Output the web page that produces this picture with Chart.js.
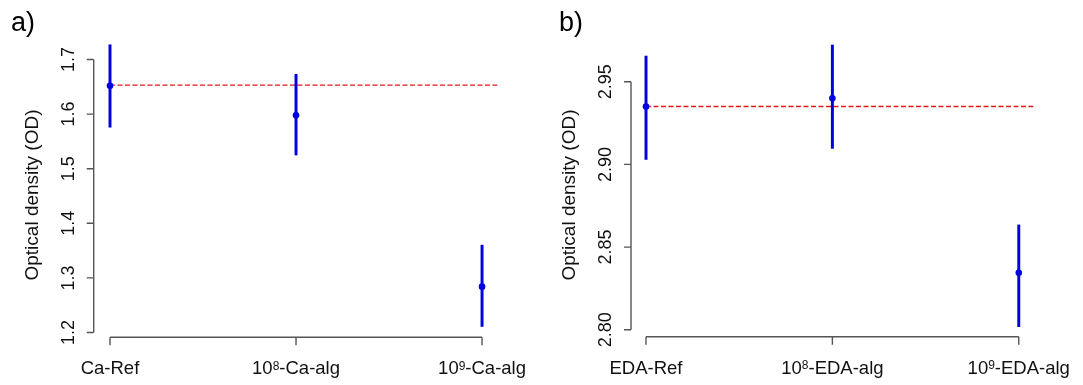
<!DOCTYPE html>
<html>
<head>
<meta charset="utf-8">
<script src="https://cdn.jsdelivr.net/npm/chart.js@4.4.1/dist/chart.umd.min.js"></script>
<style>
  html, body { margin: 0; padding: 0; background: #ffffff; }
  #wrap { position: relative; width: 1083px; height: 385px; overflow: hidden; }
  canvas { position: absolute; top: 0; }
</style>
</head>
<body>
<div id="wrap">
  <canvas id="chartA" width="541" height="385" style="left:0px"></canvas>
  <canvas id="chartB" width="542" height="385" style="left:541px"></canvas>
</div>
<script>
// ---------- DATA ----------
const panelLabelA = 'a)';
const panelLabelB = 'b)';
const yTitle = 'Optical density (OD)';

const categoriesA = ['Ca-Ref', '10^8-Ca-alg', '10^9-Ca-alg'];
const meanA  = [1.652, 1.598, 1.284];
const lowerA = [1.576, 1.525, 1.211];
const upperA = [1.727, 1.673, 1.360];
const refA   = 1.653;
const yTicksA = [1.2, 1.3, 1.4, 1.5, 1.6, 1.7];
const yTickLabelsA = ['1.2', '1.3', '1.4', '1.5', '1.6', '1.7'];

const categoriesB = ['EDA-Ref', '10^8-EDA-alg', '10^9-EDA-alg'];
const meanB  = [2.935, 2.940, 2.8345];
const lowerB = [2.903, 2.9097, 2.8019];
const upperB = [2.9655, 2.9722, 2.8634];
const refB   = 2.935;
const yTicksB = [2.80, 2.85, 2.90, 2.95];
const yTickLabelsB = ['2.80', '2.85', '2.90', '2.95'];

// ---------- STYLE ----------
const BLUE = '#0000e0';
const RED = '#e31a1a';
const AXIS = '#555555';
const FONT = '"Liberation Sans", Arial, Helvetica, sans-serif';

// R-style axes drawn with the chart's own scales
const rAxesPlugin = {
  id: 'rAxes',
  afterDraw(chart, args, opts) {
    const ctx = chart.ctx;
    const xs = chart.scales.x, ys = chart.scales.y;
    const area = chart.chartArea;
    ctx.save();
    ctx.strokeStyle = AXIS;
    ctx.lineWidth = 1.4;
    ctx.fillStyle = '#111111';

    // Y axis
    const ax = area.left;
    const yTop = ys.getPixelForValue(opts.yTicks[opts.yTicks.length - 1]);
    const yBot = ys.getPixelForValue(opts.yTicks[0]);
    ctx.beginPath();
    ctx.moveTo(ax, yTop); ctx.lineTo(ax, yBot);
    opts.yTicks.forEach(v => {
      const py = ys.getPixelForValue(v);
      ctx.moveTo(ax, py); ctx.lineTo(ax - 7, py);
    });
    ctx.stroke();
    ctx.font = '18px ' + FONT;
    ctx.textAlign = 'center';
    ctx.textBaseline = 'middle';
    opts.yTicks.forEach((v, i) => {
      const py = ys.getPixelForValue(v);
      ctx.save();
      ctx.translate(ax - 25, py);
      ctx.rotate(-Math.PI / 2);
      ctx.fillText(opts.yTickLabels[i], 0, 0);
      ctx.restore();
    });

    // Y title
    ctx.save();
    ctx.font = '19px ' + FONT;
    ctx.translate(ax - 61, 195);
    ctx.rotate(-Math.PI / 2);
    ctx.fillText(opts.yTitle, 0, 0);
    ctx.restore();

    // X axis
    const axY = area.bottom + opts.xGap;
    const x0 = xs.getPixelForValue(0);
    const x1 = xs.getPixelForValue(opts.categories.length - 1);
    ctx.beginPath();
    ctx.moveTo(x0, axY); ctx.lineTo(x1, axY);
    opts.categories.forEach((c, i) => {
      const px = xs.getPixelForValue(i);
      ctx.moveTo(px, axY); ctx.lineTo(px, axY + 8);
    });
    ctx.stroke();

    // X labels with superscripts
    const mainFont = '18.5px ' + FONT;
    const supFont = '12px ' + FONT;
    ctx.textAlign = 'left';
    ctx.textBaseline = 'alphabetic';
    const baseY = axY + 37;
    opts.categories.forEach((c, i) => {
      const px = xs.getPixelForValue(i);
      let parts;
      const k = c.indexOf('^');
      if (k >= 0) {
        parts = [[c.slice(0, k), false], [c.slice(k + 1, k + 2), true], [c.slice(k + 2), false]];
      } else {
        parts = [[c, false]];
      }
      let total = 0;
      parts.forEach(p => { ctx.font = p[1] ? supFont : mainFont; total += ctx.measureText(p[0]).width; });
      let cx = px - total / 2;
      parts.forEach(p => {
        ctx.font = p[1] ? supFont : mainFont;
        ctx.fillText(p[0], cx, p[1] ? baseY - 4.5 : baseY);
        cx += ctx.measureText(p[0]).width;
      });
    });

    // Panel label
    ctx.font = '27px ' + FONT;
    ctx.fillStyle = '#000000';
    ctx.fillText(opts.panelLabel, opts.panelX, 31);
    ctx.restore();
  }
};

function makeChart(id, cfg) {
  const bars = cfg.categories.map((c, i) => ({ x: i, y: [cfg.lower[i], cfg.upper[i]] }));
  const pts = cfg.categories.map((c, i) => ({ x: i, y: cfg.mean[i] }));
  const refLine = [{ x: 0, y: cfg.ref }, { x: cfg.xMax, y: cfg.ref }];
  return new Chart(document.getElementById(id), {
    type: 'bar',
    data: {
      datasets: [
        {
          type: 'line', data: refLine, borderColor: RED, borderWidth: 1.3,
          borderDash: [5, 2.5], pointRadius: 0, fill: false, clip: false, order: 3
        },
        {
          type: 'bar', data: bars, backgroundColor: BLUE, borderWidth: 0,
          barThickness: 2.3, grouped: false, clip: false, order: 2
        },
        {
          type: 'scatter', data: pts, backgroundColor: BLUE, borderColor: BLUE,
          pointRadius: 3.3, borderWidth: 0, clip: false, order: 1
        }
      ]
    },
    options: {
      responsive: false,
      animation: false,
      devicePixelRatio: 1,
      layout: { padding: cfg.padding },
      plugins: {
        legend: { display: false },
        tooltip: { enabled: false },
        rAxes: {
          yTicks: cfg.yTicks, yTickLabels: cfg.yTickLabels, yTitle: yTitle,
          categories: cfg.categories, xGap: cfg.xGap,
          panelLabel: cfg.panelLabel, panelX: cfg.panelX
        }
      },
      scales: {
        x: { type: 'linear', min: cfg.xMin, max: cfg.xMax, display: false, offset: false },
        y: { type: 'linear', min: cfg.yMin, max: cfg.yMax, display: false }
      }
    },
    plugins: [rAxesPlugin]
  });
}

makeChart('chartA', {
  categories: categoriesA, mean: meanA, lower: lowerA, upper: upperA, ref: refA,
  yTicks: yTicksA, yTickLabels: yTickLabelsA,
  yMin: 1.2, yMax: 1.7, xMin: -0.0876, xMax: 2.082,
  padding: { left: 93.7, right: 43.7, top: 59.5, bottom: 52.5 },
  xGap: 4.8, panelLabel: panelLabelA, panelX: 11
});

makeChart('chartB', {
  categories: categoriesB, mean: meanB, lower: lowerB, upper: upperB, ref: refB,
  yTicks: yTicksB, yTickLabels: yTickLabelsB,
  yMin: 2.80, yMax: 2.95, xMin: -0.0805, xMax: 2.078,
  padding: { left: 90, right: 49.7, top: 81.7, bottom: 55.2 },
  xGap: 6.9, panelLabel: panelLabelB, panelX: 18
});
</script>
</body>
</html>
